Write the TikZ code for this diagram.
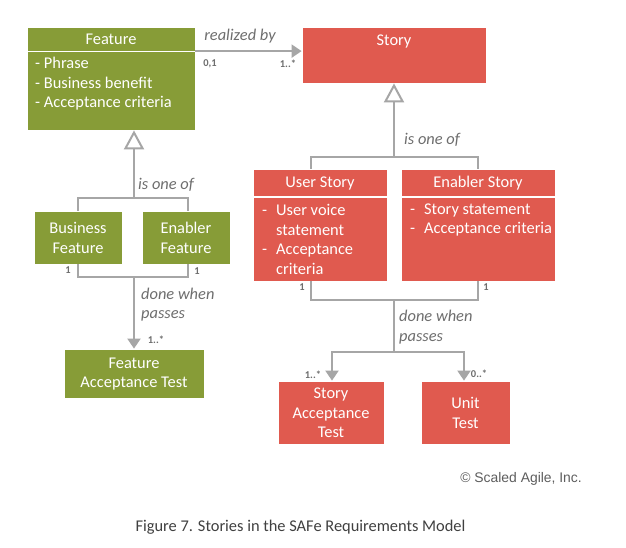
\documentclass[tikz,border=0pt]{standalone}
\usepackage{fontspec}
\setmainfont{Carlito}
\newfontfamily\arialf{Liberation Sans}
\usetikzlibrary{arrows.meta}
\definecolor{safegreen}{HTML}{879C37}
\definecolor{safered}{HTML}{E05A4F}
\definecolor{lngrey}{HTML}{A6A6A6}
\definecolor{lblgrey}{HTML}{6E6E6E}
\newcommand{\dsh}{\makebox[14pt][l]{-}}
\newcommand{\ind}{\hspace*{14pt}}
\begin{document}
\begin{tikzpicture}[x=1pt,y=-1pt,
  gbox/.style={draw=white, line width=0.8pt, fill=safegreen, inner sep=0pt},
  rbox/.style={draw=white, line width=0.8pt, fill=safered, inner sep=0pt},
  btxt/.style={text=white, font=\fontsize{16.4}{19.5}\selectfont, align=center, inner sep=0pt},
  ltxt/.style={text=white, font=\fontsize{16.4}{19.5}\selectfont, align=left, inner sep=0pt, anchor=west},
  sep/.style={white, line width=1.5pt},
  conn/.style={lngrey, line width=2pt},
  arr/.style={conn, -{Triangle[width=13pt,length=10pt]}},
  gen/.style={conn, -{Triangle[open,width=20pt,length=19pt,fill=white]}},
  lbl/.style={text=lblgrey, font=\fontsize{16.4}{19.5}\selectfont\itshape, inner sep=0pt},
  mult/.style={text=lblgrey, font=\fontsize{10.5}{12}\selectfont\bfseries, inner sep=0pt}
]
\useasboundingbox[fill=white] (0,0) rectangle (626,547);

% ---- Feature
\node[gbox, minimum width=168pt, minimum height=103pt] (feat) at (111,78.5) {};
\draw[sep] (27.4,51.5) -- (194.6,51.5);
\node[btxt] (featT) at (111,39) {Feature};
\node[ltxt] (featL) at (35,84) {- Phrase\\- Business benefit\\- Acceptance criteria};

% ---- Story
\node[rbox, minimum width=184pt, minimum height=56pt] (story) at (394,55) {};
\node[btxt] (storyT) at (394,41) {Story};

% ---- Business / Enabler Feature
\node[gbox, minimum width=88pt, minimum height=53pt] (bf) at (78,237.5) {};
\node[btxt] (bfT) at (78,238) {Business\\Feature};
\node[gbox, minimum width=88pt, minimum height=53pt] (ef) at (186,237.5) {};
\node[btxt] (efT) at (186,238) {Enabler\\Feature};

% ---- Feature Acceptance Test
\node[gbox, minimum width=140pt, minimum height=49pt] (fat) at (134,373.5) {};
\node[btxt] (fatT) at (134,374) {Feature\\Acceptance Test};

% ---- User Story
\node[rbox, minimum width=134pt, minimum height=112pt] (us) at (320,225) {};
\draw[sep] (253.4,197) -- (386.6,197);
\node[btxt] (usT) at (320,183) {User Story};
\node[ltxt] (usL) at (262,239.5) {\dsh User voice\\\ind statement\\\dsh Acceptance\\\ind criteria};

% ---- Enabler Story
\node[rbox, minimum width=154pt, minimum height=112pt] (es) at (478,225) {};
\draw[sep] (401.4,197) -- (554.6,197);
\node[btxt] (esT) at (478,183) {Enabler Story};
\node[ltxt] (esL) at (410,220) {\dsh Story statement\\\dsh Acceptance criteria};

% ---- Story Acceptance Test / Unit Test
\node[rbox, minimum width=106pt, minimum height=63pt] (sat) at (331,412.5) {};
\node[btxt] (satT) at (331,413) {Story\\Acceptance\\Test};
\node[rbox, minimum width=89pt, minimum height=63pt] (ut) at (465.5,412.5) {};
\node[btxt] (utT) at (465.5,413) {Unit\\Test};

% ---- connectors: realized by
\draw[arr] ([yshift=-24.5pt]feat.north east) -- ([yshift=-24.5pt]story.north west);
\node[lbl] (lblReal) at (240,36) {realized by};
\node[mult] (m01) at (210,64) {0,1};
\node[mult] (m1s) at (288,64) {1..*};

% ---- Story generalization
\coordinate (sbar) at (394,157);
\draw[conn] ([xshift=-9pt]us.north) |- (es.north |- sbar) -- (es.north);
\draw[gen] (sbar) -- (story.south);
\node[lbl, anchor=west] (lblIs1) at (404,140) {is one of};

% ---- Feature generalization
\coordinate (fbar) at (134,198);
\draw[conn] (bf.north) |- ([xshift=2pt]ef.north |- fbar) -- ([xshift=2pt]ef.north);
\draw[gen] (fbar) -- (feat.south -| fbar);
\node[lbl, anchor=west] (lblIs2) at (138,185) {is one of};

% ---- Feature done when passes
\coordinate (fdb) at (134,277);
\draw[conn] (bf.south) |- ([xshift=2pt]ef.south |- fdb) -- ([xshift=2pt]ef.south);
\draw[arr] (fdb) -- (fat.north);
\node[mult] (mbf) at (68,270) {1};
\node[mult] (mef) at (197,271) {1};
\node[lbl, anchor=west, align=left] (lblDone1) at (141,304.5) {done when\\passes};
\node[mult] (mfat) at (156,340) {1..*};

% ---- Story done when passes
\coordinate (sdb) at (394,300);
\coordinate (sdb2) at (394,352);
\draw[conn] ([xshift=-9pt]us.south) |- (es.south |- sdb) -- (es.south);
\draw[conn] (sdb) -- (sdb2);
\draw[arr] (sdb2) -| ([xshift=1pt]sat.north);
\draw[arr] (sdb2) -| ([xshift=-1.5pt]ut.north);
\node[mult] (mus) at (302,287) {1};
\node[mult] (mes) at (486,287) {1};
\node[lbl, anchor=west, align=left] (lblDone2) at (399,327) {done when\\passes};
\node[mult] (msat) at (313,375) {1..*};
\node[mult] (mut) at (479,374) {0..*};

% ---- footer
\node[anchor=east, inner sep=0pt, text=lblgrey!85!black, font=\arialf\fontsize{13.9}{15}\selectfont] (copy) at (582,479) {\textcopyright\ Scaled Agile, Inc.};
\node[inner sep=0pt, text=black!75, font=\fontsize{16.4}{18}\selectfont] (cap) at (300.5,527) {Figure 7. Stories in the SAFe Requirements Model};
\end{tikzpicture}
\end{document}
